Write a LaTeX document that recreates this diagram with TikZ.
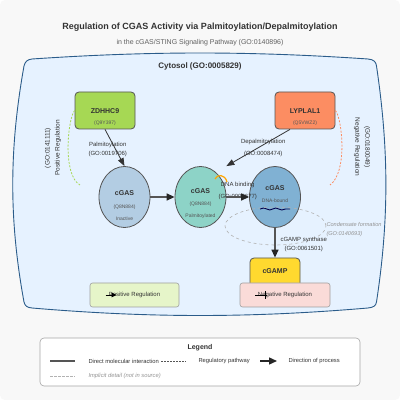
\documentclass[tikz,border=0pt]{standalone}
\usepackage{fontspec}
\setmainfont{Liberation Sans}
\usetikzlibrary{positioning, arrows.meta, calc, shapes.geometric, decorations.pathmorphing}

\definecolor{bgGray}{HTML}{F8F8F8}
\definecolor{cytoFill}{HTML}{E6F2FF}
\definecolor{cytoLine}{HTML}{2B5C8A}
\definecolor{zdhhcGreen}{HTML}{A6D854}
\definecolor{lyplalOrange}{HTML}{FC8D62}
\definecolor{cgasInactive}{HTML}{B3CDE3}
\definecolor{cgasPalm}{HTML}{8DD3C7}
\definecolor{cgasDNA}{HTML}{80B1D3}
\definecolor{cgampGold}{HTML}{FFD92F}
\definecolor{posFill}{HTML}{E6F5C9}
\definecolor{negFill}{HTML}{FADBD8}
\definecolor{lipidOrange}{HTML}{FFA500}
\definecolor{inkDark}{HTML}{333333}
\definecolor{inkMid}{HTML}{555555}

\begin{document}
\begin{tikzpicture}[
    x=1pt, y=1pt,
    >=Stealth,
    font=\fontsize{6}{7.2}\selectfont,
    enzyme box/.style={draw=inkMid, line width=0.8pt, rounded corners=4pt,
                       minimum width=60pt, minimum height=37pt, inner sep=0pt},
    cgas state/.style={ellipse, draw=inkMid, line width=0.8pt,
                       minimum width=51pt, minimum height=61pt, inner sep=0pt},
    reg box/.style={draw=gray!75, line width=0.6pt, rounded corners=2.5pt,
                    minimum width=90pt, minimum height=24pt, inner sep=0pt},
    name text/.style={font=\fontsize{7}{8.4}\selectfont\bfseries, text=inkDark},
    id text/.style={font=\fontsize{5}{6}\selectfont, text=inkMid},
    edge text/.style={font=\fontsize{6}{9}\selectfont, text=inkDark, align=center},
    reg label/.style={font=\fontsize{6.5}{7.8}\selectfont, text=inkDark},
    hint text/.style={font=\fontsize{5.6}{9}\selectfont\itshape, text=gray!85,
                      align=left, inner sep=0pt},
    flow arrow/.style={draw=inkMid, line width=1.4pt,
                       -{Triangle[length=8pt, width=7pt, color=black!85]}},
    act arrow/.style={draw=black!80, line width=0.8pt,
                      -{Triangle[length=8pt, width=6pt]}},
    reg curve/.style={line width=0.8pt, dash pattern=on 2pt off 1.5pt},
]

\def\rowY{203}  % centre line of the three cGAS states

% =====================================================================
%  BACKGROUND + TITLE
% =====================================================================
\fill[white] (0,0) rectangle (400,400);
\fill[bgGray, rounded corners=5pt] (0,0) rectangle (400,400);
\useasboundingbox (0,0) rectangle (400,400);

\node[font=\fontsize{9}{10.8}\selectfont\bfseries, text=inkDark] (title) at (200,373)
    {Regulation of CGAS Activity via Palmitoylation/Depalmitoylation};
\node[font=\fontsize{7}{8.4}\selectfont, text=gray!75!black] (subtitle) at (200,357)
    {in the cGAS/STING Signaling Pathway (GO:0140896)};

% =====================================================================
%  CYTOSOL
% =====================================================================
\draw[cytoLine, fill=cytoFill, line width=0.9pt]
    (32,341) .. controls (150,349) and (250,349) .. (368,341)
    .. controls (374,340.5) and (376,338) .. (376.5,334)
    .. controls (389,250) and (389,180) .. (376.5,98)
    .. controls (376,94) and (373,92.5) .. (368,92)
    .. controls (250,82) and (150,82) .. (32,92)
    .. controls (27,92.5) and (25,94) .. (24,98)
    .. controls (9,180) and (9,250) .. (24,334)
    .. controls (25,338) and (27,340.5) .. (32,341) -- cycle;
\node[font=\fontsize{8}{9.6}\selectfont\bfseries, text=inkDark] (cytoLbl) at (200,334)
    {Cytosol (GO:0005829)};

% --- Enzymes ---
\node[enzyme box, fill=zdhhcGreen] (zdhhc) at (105,289.5) {};
\node[name text] (zdhhcName) at ([yshift=-1pt]zdhhc.center) {ZDHHC9};
\node[id text] (zdhhcId) at ([yshift=-12.5pt]zdhhc.center) {(Q9Y397)};

\node[enzyme box, fill=lyplalOrange] (lyplal) at (305,289.5) {};
\node[name text] (lyplalName) at ([yshift=-1pt]lyplal.center) {LYPLAL1};
\node[id text] (lyplalId) at ([yshift=-12.5pt]lyplal.center) {(Q5VWZ2)};

% --- Regulation curves (dashed) ---
\coordinate (posEnd) at (80,215);
\coordinate (negEnd) at (330,215);
\draw[reg curve, draw=zdhhcGreen] (zdhhc.west)
    .. controls (68,282) and (62,225) .. (posEnd);
\draw[reg curve, draw=lyplalOrange] (lyplal.east)
    .. controls (342,282) and (348,228) .. (negEnd);

\node[reg label, rotate=90] (posGO) at (48,252) {(GO:0141111)};
\node[reg label, rotate=90] (posName) at (58,252) {Positive Regulation};
\node[reg label, rotate=-90] (negName) at (357,253) {Negative Regulation};
\node[reg label, rotate=-90] (negGO) at (367,253) {(GO:0180049)};

% --- cGAS states ---
\node[cgas state, fill=cgasInactive] (cgasI) at (124.5,\rowY) {};
\node[name text] (cgasIName) at ([yshift=4pt]cgasI.center) {cGAS};
\node[id text] (cgasIId) at ([yshift=-10pt]cgasI.center) {(Q8N884)};
\node[id text] (cgasIState) at ([yshift=-22pt]cgasI.center) {Inactive};

\node[cgas state, fill=cgasPalm] (cgasP) at (200.5,\rowY) {};
\node[name text] (cgasPName) at ([yshift=5.5pt]cgasP.center) {cGAS};
\node[id text] (cgasPId) at ([yshift=-7pt]cgasP.center) {(Q8N884)};
\node[id text] (cgasPState) at ([yshift=-19pt]cgasP.center) {Palmitoylated};

\node[cgas state, fill=cgasDNA] (cgasD) at (275,\rowY) {};
\node[name text] (cgasDName) at ([yshift=9pt]cgasD.center) {cGAS};
\node[id text] (cgasDState) at ([yshift=-4pt]cgasD.center) {DNA-bound};
\draw[draw=black!70!blue, line width=0.9pt, decorate,
      decoration={snake, amplitude=1pt, segment length=12pt}]
    ([shift={(-15,-12)}]cgasD.center) -- ([shift={(15,-12)}]cgasD.center);

% palmitoyl anchor
\draw[lipidOrange, line width=1.2pt]
    ([shift={(14.5,18)}]cgasP.center) .. controls +(2,5) and +(-2,8) ..
    ([shift={(26.5,15)}]cgasP.center);

% --- Edge labels ---
\node[edge text] (palmLbl) at ($(zdhhc.south)!0.5!(cgasI.north)+(-7,-2)$)
    {Palmitoylation\\(GO:0019706)};
\node[edge text] (depalmLbl) at ($([xshift=-15pt]lyplal.south)!0.5!(cgasP.north -| cgasP.east)+(5,0)$)
    {Depalmitoylation\\[3pt](GO:0008474)};
\node[edge text] (dnaLbl) at ($(cgasP.east)!0.5!(cgasD.west)+(0,6)$)
    {DNA binding\\[3pt](GO:0003677)};

% --- Arrows ---
\draw[act arrow] (zdhhc.south) -- (cgasI.north);
\draw[act arrow] ([xshift=-15pt]lyplal.south) -- (cgasP.north -| cgasP.east);
\draw[flow arrow] (cgasI.east) -- (cgasP.west);
\draw[flow arrow] (cgasP.east) -- (cgasD.west);

% --- Condensate (implicit) ---
\node[ellipse, draw=gray!60, dashed, line width=0.6pt,
      minimum width=101pt, minimum height=38pt] (condensate) at (275.5,174) {};
\node[hint text, anchor=west] (condLbl) at ([yshift=-3.5pt]condensate.east)
    {Condensate formation\\(GO:0140693)};

% --- Product ---
\node[enzyme box, fill=cgampGold, minimum width=50pt, minimum height=34pt] (cgamp) at (275,125) {};
\node[name text] (cgampName) at ([yshift=4pt]cgamp.center) {cGAMP};
\draw[flow arrow] (cgasD.south) -- (cgamp.north)
    node[edge text, midway, anchor=west, xshift=1.5pt, yshift=-2pt] (synthLbl)
    {cGAMP synthase\\(GO:0061501)};

% --- Regulation boxes ---
\node[reg box, fill=posFill, minimum width=89pt] (posBox) at (134.5,105) {};
\node[edge text] (posText) at (posBox.center) {Positive Regulation};
\draw[line width=0.9pt, -{Triangle[length=5pt, width=4.5pt]}]
    ([xshift=-29pt]posBox.center) -- ([xshift=-18pt]posBox.center);

\node[reg box, fill=negFill] (negBox) at (285,105) {};
\node[edge text] (negText) at (negBox.center) {Negative Regulation};
\draw[line width=0.9pt] ([xshift=-30pt]negBox.center) -- ([xshift=-18pt]negBox.center);
\draw[line width=1.6pt] ([shift={(-19.5,-4)}]negBox.center) -- ([shift={(-19.5,4)}]negBox.center);

% =====================================================================
%  LEGEND
% =====================================================================
\node[draw=gray!70, fill=white, line width=0.6pt, rounded corners=4pt,
      minimum width=320pt, minimum height=48pt, inner sep=0pt] (legend) at (200,38) {};
\node[font=\fontsize{7}{8.4}\selectfont\bfseries, text=inkDark] (legendTitle) at (200,52) {Legend};

\coordinate (lgSolidA) at (50,39);  \coordinate (lgSolidB) at (75,39);
\coordinate (lgDashA) at (161,39);  \coordinate (lgDashB) at (186,39);
\coordinate (lgArrA) at (260,39);   \coordinate (lgArrB) at (277,39);
\coordinate (lgHintA) at (50,24);   \coordinate (lgHintB) at (75,24);

\draw[inkMid, line width=1.3pt] (lgSolidA) -- (lgSolidB);
\node[anchor=west, text=inkDark, font=\fontsize{5.8}{7}\selectfont] (lgSolidTxt) at (85,39) {Direct molecular interaction};
\draw[inkMid, line width=0.9pt, dash pattern=on 2pt off 1pt] (lgDashA) -- (lgDashB);
\node[anchor=west, text=inkDark, font=\fontsize{5.8}{7}\selectfont] (lgDashTxt) at (195,39) {Regulatory pathway};
\draw[black!85, line width=1.4pt, -{Triangle[length=8pt, width=7pt]}] (lgArrA) -- (lgArrB);
\node[anchor=west, text=inkDark, font=\fontsize{5.8}{7}\selectfont] (lgArrTxt) at (285,39) {Direction of process};
\draw[gray!60, line width=0.5pt, dash pattern=on 2.5pt off 1.5pt] (lgHintA) -- (lgHintB);
\node[anchor=west, font=\fontsize{5.8}{7}\selectfont\itshape, text=gray!85] (lgHintTxt) at (85,24)
    {Implicit detail (not in source)};

\end{tikzpicture}
\end{document}
